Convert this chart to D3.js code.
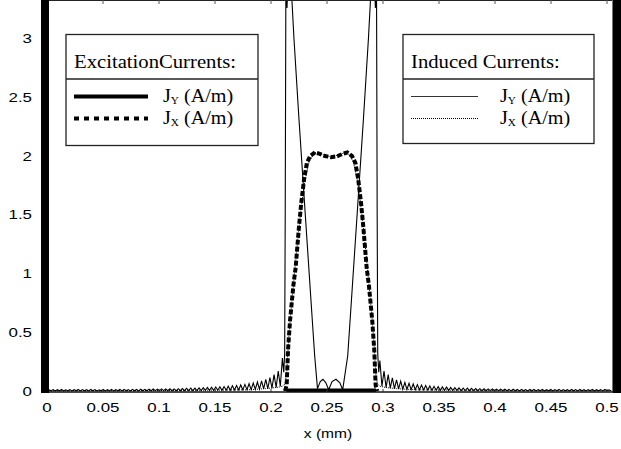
<!DOCTYPE html>
<html>
<head>
<meta charset="utf-8">
<script src="https://cdn.jsdelivr.net/npm/d3@7"></script>
<style>
  body { margin: 0; background: #fff; }
  svg { display: block; }
</style>
</head>
<body>
<div id="chart"></div>
<script>
// ---- data (x in mm, current in A/m) ----
const xTicks = [0, 0.05, 0.1, 0.15, 0.2, 0.25, 0.3, 0.35, 0.4, 0.45, 0.5];
const yTicks = [0, 0.5, 1, 1.5, 2, 2.5, 3];

// induced Jy ripple, sampled every tailStep mm
const tailStep = 0.00186;
const leftTailStart = 0;
const inducedJyLeftTail = [
  0.000, 0.010, 0.002, 0.012, 0.001, 0.011, 0.002, 0.013, 0.001, 0.010, 0.002, 0.012, 0.001, 0.011, 0.002, 0.013,
  0.001, 0.012, 0.002, 0.011, 0.001, 0.013, 0.002, 0.012, 0.001, 0.010, 0.002, 0.013, 0.001, 0.012, 0.002, 0.014,
  0.001, 0.012, 0.002, 0.013, 0.001, 0.014, 0.002, 0.012, 0.001, 0.014, 0.002, 0.013, 0.001, 0.015, 0.002, 0.014,
  0.002, 0.016, 0.002, 0.017, 0.003, 0.016, 0.002, 0.018, 0.003, 0.017, 0.002, 0.019, 0.003, 0.018, 0.002, 0.020,
  0.003, 0.021, 0.003, 0.022, 0.004, 0.024, 0.003, 0.025, 0.004, 0.026, 0.004, 0.028, 0.005, 0.030, 0.005, 0.032,
  0.005, 0.034, 0.006, 0.036, 0.006, 0.038, 0.007, 0.041, 0.007, 0.044, 0.008, 0.047, 0.009, 0.051, 0.010, 0.056,
  0.011, 0.062, 0.012, 0.068, 0.014, 0.076, 0.016, 0.086, 0.018, 0.098, 0.021, 0.115, 0.025, 0.140, 0.030, 0.170,
  0.040, 0.280
];
const inducedJyCenterX = [0.2114, 0.2122, 0.2127, 0.2133, 0.2143, 0.2155, 0.2180, 0.2205, 0.2250, 0.2300, 0.2350,
  0.2390, 0.2415, 0.2440, 0.2464, 0.2490, 0.2515, 0.2545, 0.2580, 0.2615, 0.2640, 0.2685, 0.2725, 0.2775,
  0.2825, 0.2870, 0.2895, 0.2920, 0.2932, 0.2942, 0.2948, 0.2953, 0.2962];
const inducedJyCenterY = [0.16, 0.32, 1.5, 3.5, 3.26, 3.6, 3.45, 3.0, 2.31, 1.59, 0.87,
  0.30, 0.02, 0.08, 0.10, 0.07, 0.01, 0.08, 0.10, 0.07, 0.01, 0.30, 0.87, 1.59,
  2.31, 3.0, 3.45, 3.6, 3.26, 3.5, 1.5, 0.32, 0.16];
const rightTailStart = 0.2972;
const inducedJyRightTail = [
  0.260, 0.040, 0.170, 0.030, 0.140, 0.025, 0.112, 0.021, 0.095, 0.018, 0.084, 0.016, 0.074, 0.014, 0.066, 0.012,
  0.060, 0.011, 0.054, 0.010, 0.050, 0.009, 0.046, 0.008, 0.043, 0.007, 0.040, 0.007, 0.037, 0.006, 0.035, 0.006,
  0.033, 0.005, 0.031, 0.005, 0.029, 0.005, 0.027, 0.004, 0.025, 0.004, 0.024, 0.003, 0.022, 0.004, 0.021, 0.003,
  0.020, 0.003, 0.019, 0.002, 0.018, 0.003, 0.017, 0.002, 0.016, 0.002, 0.016, 0.002, 0.015, 0.002, 0.014, 0.001,
  0.015, 0.002, 0.013, 0.001, 0.014, 0.002, 0.012, 0.001, 0.013, 0.002, 0.014, 0.001, 0.012, 0.002, 0.013, 0.001,
  0.011, 0.002, 0.013, 0.001, 0.012, 0.002, 0.014, 0.001, 0.012, 0.002, 0.011, 0.001, 0.013, 0.002, 0.012, 0.001,
  0.013, 0.002, 0.011, 0.001, 0.012, 0.002, 0.013, 0.001, 0.011, 0.002, 0.012, 0.001, 0.013, 0.002, 0.010, 0.000
];

// excitation Jx (thick dashed)
const excitationJxX = [0.2125, 0.2140, 0.2152, 0.2170, 0.2200, 0.2220, 0.2250, 0.2270, 0.2295, 0.2320, 0.2350,
  0.2393, 0.2430, 0.2480, 0.2537, 0.2595, 0.2645, 0.2681, 0.2724, 0.2754, 0.2779, 0.2804, 0.2824,
  0.2854, 0.2874, 0.2904, 0.2922, 0.2934, 0.2949];
const excitationJxY = [0.00, 0.05, 0.35, 0.60, 0.90, 1.05, 1.40, 1.60, 1.80, 1.94, 2.00,
  2.03, 2.02, 2.00, 1.99, 2.00, 2.02, 2.03, 2.00, 1.94, 1.80, 1.60, 1.40,
  1.05, 0.90, 0.60, 0.35, 0.05, 0.00];

// induced Jx (thin dotted)
const inducedJxX = [0, 0.1000, 0.1800, 0.1950, 0.2050, 0.2100, 0.2125, 0.2140, 0.2155, 0.2175, 0.2200, 0.2230,
  0.2260, 0.2300, 0.2340, 0.2390, 0.2440, 0.2537, 0.2635, 0.2685, 0.2735, 0.2775, 0.2815, 0.2845,
  0.2875, 0.2900, 0.2920, 0.2935, 0.2950, 0.2975, 0.3025, 0.3120, 0.3300, 0.4000, 0.5045];
const inducedJxY = [0.002, 0.004, 0.010, 0.020, 0.030, 0.040, 0.060, 0.150, 0.400, 0.650, 0.900, 1.200,
  1.480, 1.780, 1.950, 2.030, 2.020, 1.990, 2.020, 2.030, 1.950, 1.780, 1.480, 1.200,
  0.900, 0.650, 0.400, 0.150, 0.060, 0.040, 0.030, 0.020, 0.010, 0.004, 0.002];

// excitation Jy (thick solid) along the strip
const excitationJyX = [0.2143, 0.2938];
const excitationJyY = [0, 0];

// ---- layout ----
const width = 621;
const height = 449;
const plotLeft = 41, plotRight = 612, plotTop = 0, plotBottom = 392;

const x = d3.scaleLinear().domain([0, 0.5]).range([47, 607]);
const y = d3.scaleLinear().domain([0, 3]).range([391, 38.5]);

const svg = d3.select("#chart")
  .append("svg")
  .attr("width", width)
  .attr("height", height)
  .style("font-family", "'Liberation Sans', Arial, sans-serif");

svg.append("rect").attr("width", width).attr("height", height).attr("fill", "#fff");

svg.append("clipPath")
  .attr("id", "plot-clip")
  .append("rect")
  .attr("x", plotLeft)
  .attr("y", plotTop)
  .attr("width", plotRight - plotLeft)
  .attr("height", plotBottom - plotTop);

// build series
const jyLeft = inducedJyLeftTail.map((v, i) => [leftTailStart + i * tailStep, v]);
const jyCenter = inducedJyCenterX.map((v, i) => [v, inducedJyCenterY[i]]);
const jyRight = inducedJyRightTail.map((v, i) => [rightTailStart + i * tailStep, v]);
const inducedJy = jyLeft.concat(jyCenter, jyRight);
const excitationJx = excitationJxX.map((v, i) => [v, excitationJxY[i]]);
const inducedJx = inducedJxX.map((v, i) => [v, inducedJxY[i]]);
const excitationJy = excitationJyX.map((v, i) => [v, excitationJyY[i]]);

const line = d3.line().x((d) => x(d[0])).y((d) => y(d[1]));

const curves = svg.append("g").attr("clip-path", "url(#plot-clip)");

curves.append("path")
  .datum(inducedJx)
  .attr("d", line)
  .attr("fill", "none")
  .attr("stroke", "#000")
  .attr("stroke-width", 1)
  .attr("stroke-dasharray", "1,1");

curves.append("path")
  .datum(excitationJx)
  .attr("d", line)
  .attr("fill", "none")
  .attr("stroke", "#000")
  .attr("stroke-width", 4)
  .attr("stroke-dasharray", "5,2");

curves.append("path")
  .datum(inducedJy)
  .attr("d", line)
  .attr("fill", "none")
  .attr("stroke", "#000")
  .attr("stroke-width", 1.1)
  .attr("stroke-linejoin", "miter");

curves.append("path")
  .datum(excitationJy)
  .attr("d", line)
  .attr("fill", "none")
  .attr("stroke", "#000")
  .attr("stroke-width", 5);

// ---- frame ----
svg.append("line")
  .attr("x1", plotLeft).attr("x2", plotRight + 1)
  .attr("y1", 0.5).attr("y2", 0.5)
  .attr("stroke", "#222").attr("stroke-width", 1.2);
svg.append("line")
  .attr("x1", plotRight + 0.5).attr("x2", plotRight + 0.5)
  .attr("y1", 0).attr("y2", plotBottom)
  .attr("stroke", "#777").attr("stroke-width", 1);
svg.append("line")
  .attr("x1", plotLeft).attr("x2", plotRight + 1)
  .attr("y1", plotBottom).attr("y2", plotBottom)
  .attr("stroke", "#111").attr("stroke-width", 1.5);

// thick side bars
svg.append("rect").attr("x", 41).attr("y", 0).attr("width", 8).attr("height", plotBottom + 1).attr("fill", "#000");
svg.append("rect").attr("x", 613).attr("y", 0).attr("width", 8).attr("height", plotBottom + 1).attr("fill", "#000");

// inward ticks top and bottom
svg.append("g")
  .selectAll("line")
  .data(xTicks.slice(1))
  .join("line")
  .attr("x1", (d) => x(d)).attr("x2", (d) => x(d))
  .attr("y1", 0).attr("y2", 4)
  .attr("stroke", "#555");
svg.append("g")
  .selectAll("line")
  .data(xTicks.slice(1))
  .join("line")
  .attr("x1", (d) => x(d)).attr("x2", (d) => x(d))
  .attr("y1", plotBottom).attr("y2", plotBottom - 3)
  .attr("stroke", "#333");

// tick labels (the source font is wide, so stretch horizontally)
const fmt = (d) => String(d);
svg.append("g")
  .selectAll("text")
  .data(xTicks)
  .join("text")
  .attr("transform", (d) => `translate(${x(d)},412) scale(1.3,1)`)
  .attr("text-anchor", "middle")
  .attr("font-size", 13)
  .attr("fill", "#000")
  .text(fmt);

svg.append("g")
  .selectAll("text")
  .data(yTicks)
  .join("text")
  .attr("transform", (d) => `translate(32,${y(d) + 4.5}) scale(1.3,1)`)
  .attr("text-anchor", "end")
  .attr("font-size", 13)
  .attr("fill", "#000")
  .text(fmt);

svg.append("text")
  .attr("transform", "translate(328,438) scale(1.2,1)")
  .attr("text-anchor", "middle")
  .attr("font-size", 13)
  .attr("fill", "#000")
  .text("x (mm)");

// ---- legends ----
function legend(box, title, entries) {
  const g = svg.append("g").style("font-family", "'Liberation Serif', 'Times New Roman', serif");
  g.append("rect")
    .attr("x", box.x).attr("y", box.y)
    .attr("width", box.w).attr("height", box.h)
    .attr("fill", "#fff").attr("stroke", "#222").attr("stroke-width", 1.3);
  g.append("line")
    .attr("x1", box.x).attr("x2", box.x + box.w)
    .attr("y1", box.y + 44.5).attr("y2", box.y + 44.5)
    .attr("stroke", "#222").attr("stroke-width", 1.3);
  g.append("text")
    .attr("transform", `translate(${box.x + 8},${box.y + 33}) scale(1.15,1)`)
    .attr("font-size", 18)
    .attr("fill", "#000")
    .text(title);
  entries.forEach((e, i) => {
    const yy = box.y + 62 + i * 22;
    g.append("line")
      .attr("x1", box.x + 8).attr("x2", box.x + 8 + e.len)
      .attr("y1", yy).attr("y2", yy)
      .attr("stroke", e.color).attr("stroke-width", e.width)
      .attr("stroke-dasharray", e.dash);
    const t = g.append("text")
      .attr("transform", `translate(${box.tx},${yy + 5}) scale(1.12,1)`)
      .attr("font-size", 18)
      .attr("fill", "#000");
    t.append("tspan").text("J");
    t.append("tspan").attr("font-size", 10).attr("dy", 2).text(e.sub);
    t.append("tspan").attr("dy", -2).text(" (A/m)");
  });
}

legend({ x: 66, y: 34.5, w: 192, h: 111, tx: 163 }, "ExcitationCurrents:", [
  { sub: "Y", len: 74, width: 4, dash: null, color: "#000" },
  { sub: "X", len: 74, width: 4, dash: "5,5", color: "#000" }
]);
legend({ x: 403, y: 34.5, w: 191, h: 109, tx: 500 }, "Induced Currents:", [
  { sub: "Y", len: 67, width: 1, dash: null, color: "#333" },
  { sub: "X", len: 67, width: 1, dash: "1,1", color: "#000" }
]);
</script>
</body>
</html>
